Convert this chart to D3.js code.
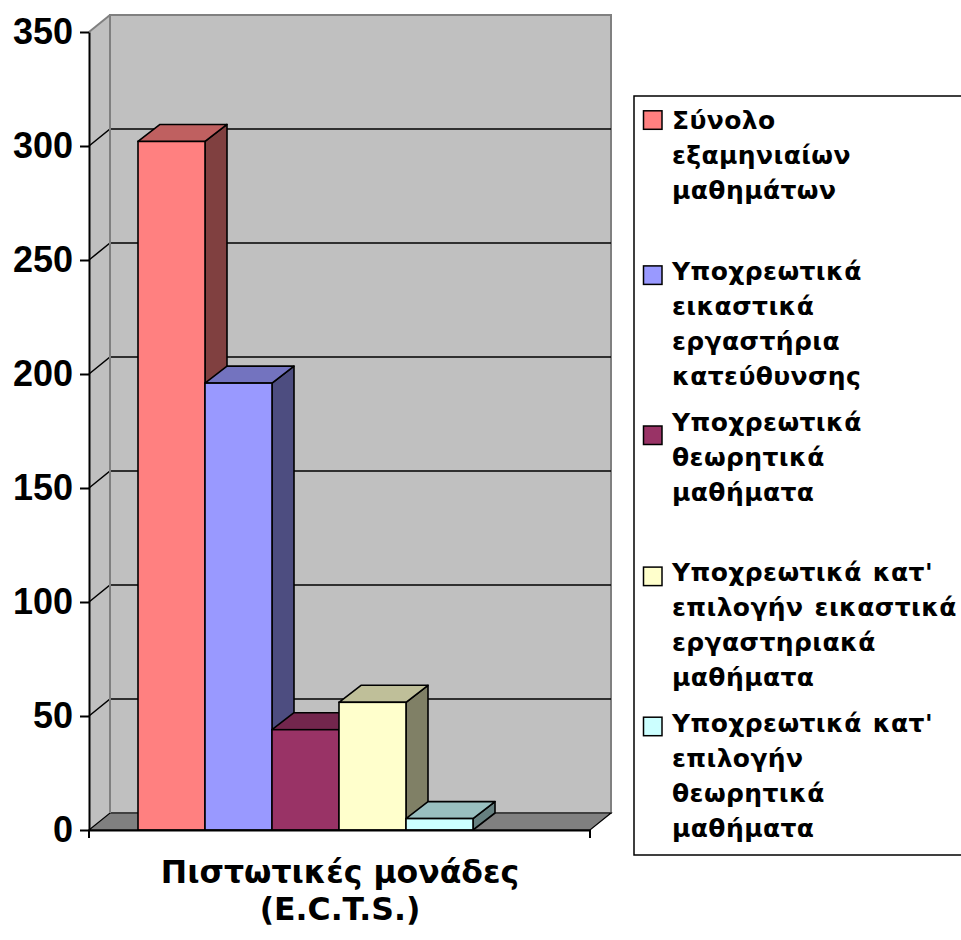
<!DOCTYPE html>
<html>
<head>
<meta charset="utf-8">
<script src="https://cdn.jsdelivr.net/npm/d3@7/dist/d3.min.js"></script>
<style>
  html, body { margin: 0; padding: 0; background: #ffffff; }
  svg { display: block; }
</style>
</head>
<body>
<div id="chart"></div>
<script>
// ---- data ----
const categories = ["Πιστωτικές μονάδες (E.C.T.S.)"];
const categoryLabelLines = ["Πιστωτικές μονάδες", "(E.C.T.S.)"];
const seriesNames = [
  "Σύνολο εξαμηνιαίων μαθημάτων",
  "Υποχρεωτικά εικαστικά εργαστήρια κατεύθυνσης",
  "Υποχρεωτικά θεωρητικά μαθήματα",
  "Υποχρεωτικά κατ' επιλογήν εικαστικά εργαστηριακά μαθήματα",
  "Υποχρεωτικά κατ' επιλογήν θεωρητικά μαθήματα"
];
const legendLines = [
  ["Σύνολο", "εξαμηνιαίων", "μαθημάτων"],
  ["Υποχρεωτικά", "εικαστικά", "εργαστήρια", "κατεύθυνσης"],
  ["Υποχρεωτικά", "θεωρητικά", "μαθήματα"],
  ["Υποχρεωτικά κατ'", "επιλογήν εικαστικά", "εργαστηριακά", "μαθήματα"],
  ["Υποχρεωτικά κατ'", "επιλογήν", "θεωρητικά", "μαθήματα"]
];
const seriesValues = [302, 196, 44, 56, 5];
const seriesColors = ["#FF8080", "#9999FF", "#993366", "#FFFFCC", "#CCFFFF"];
const yTicks = [0, 50, 100, 150, 200, 250, 300, 350];

// ---- layout ----
const W = 961, H = 940;
const AXIS_FONT = "'Liberation Sans', Arial, sans-serif";
const TEXT_FONT = "'DejaVu Sans', Verdana, sans-serif";
const plot = { left: 89, right: 590, top: 32, bottom: 830 };
const wallDX = 21, wallDY = 17;   // depth offset of the back wall
const barDX = 22, barDY = 17;     // depth offset of the bars

const svg = d3.select("#chart").append("svg").attr("width", W).attr("height", H);

const y = d3.scaleLinear().domain([0, 350]).range([plot.bottom, plot.top]);
const xCat = d3.scaleBand().domain(categories).range([plot.left, plot.right]);
const groupStart = xCat(categories[0]) + 49;
const xBar = d3.scaleBand().domain(seriesNames).range([groupStart, groupStart + 335]).padding(0);

const wallGray = "#C0C0C0", floorGray = "#808080", edgeGray = "#808080";

// side wall
svg.append("polygon")
  .attr("points", [[plot.left, y(350)], [plot.left + wallDX, y(350) - wallDY],
                   [plot.left + wallDX, y(0) - wallDY], [plot.left, y(0)]].join(" "))
  .attr("fill", wallGray).attr("stroke", "none");
// back wall
svg.append("rect")
  .attr("x", plot.left + wallDX).attr("y", y(350) - wallDY)
  .attr("width", plot.right - plot.left).attr("height", y(0) - y(350))
  .attr("fill", wallGray).attr("stroke", edgeGray).attr("stroke-width", 2);

// gridlines (side wall diagonal + back wall horizontal)
const grid = svg.append("g");
yTicks.filter(t => t > 0 && t < 350).forEach(t => {
  grid.append("polyline")
    .attr("points", [[plot.left, y(t)], [plot.left + wallDX, y(t) - wallDY], [plot.right + wallDX, y(t) - wallDY]].join(" "))
    .attr("fill", "none").attr("stroke", "#000").attr("stroke-width", 1.5);
});
grid.append("line")
  .attr("x1", plot.left).attr("y1", y(350)).attr("x2", plot.left + wallDX).attr("y2", y(350) - wallDY)
  .attr("stroke", edgeGray).attr("stroke-width", 2);

// floor
svg.append("polygon")
  .attr("points", [[plot.left, y(0)], [plot.left + wallDX, y(0) - wallDY],
                   [plot.right + wallDX, y(0) - wallDY], [plot.right, y(0)]].join(" "))
  .attr("fill", floorGray).attr("stroke", "#000").attr("stroke-width", 1.2);
svg.append("line")
  .attr("x1", plot.left + wallDX).attr("y1", y(0) - wallDY).attr("x2", plot.left + wallDX).attr("y2", y(350) - wallDY)
  .attr("stroke", edgeGray).attr("stroke-width", 2);

// bars
const shade = (c, k) => { const r = d3.rgb(c); return d3.rgb(r.r * k, r.g * k, r.b * k).formatHex(); };
const bars = svg.append("g");
seriesNames.forEach((name, i) => {
  const x0 = xBar(name), x1 = x0 + xBar.bandwidth();
  const yt = y(seriesValues[i]), yb = y(0);
  const g = bars.append("g");
  g.append("polygon")
    .attr("points", [[x1, yt], [x1 + barDX, yt - barDY], [x1 + barDX, yb - barDY], [x1, yb]].join(" "))
    .attr("fill", shade(seriesColors[i], 0.5)).attr("stroke", "#000").attr("stroke-width", 1.6).attr("stroke-linejoin", "round");
  g.append("polygon")
    .attr("points", [[x0, yt], [x0 + barDX, yt - barDY], [x1 + barDX, yt - barDY], [x1, yt]].join(" "))
    .attr("fill", shade(seriesColors[i], 0.75)).attr("stroke", "#000").attr("stroke-width", 1.6).attr("stroke-linejoin", "round");
  g.append("rect")
    .attr("x", x0).attr("y", yt).attr("width", x1 - x0).attr("height", yb - yt)
    .attr("fill", seriesColors[i]).attr("stroke", "#000").attr("stroke-width", 1.6);
});

// value axis
const yAxis = d3.axisLeft(y).tickValues(yTicks).tickSize(9).tickSizeOuter(0).tickPadding(7).tickFormat(d3.format("d"));
const ya = svg.append("g").attr("transform", `translate(${plot.left},0)`).call(yAxis);
ya.attr("font-family", AXIS_FONT).attr("font-size", 36).attr("font-weight", "bold");
ya.select(".domain").attr("stroke", "#000").attr("stroke-width", 2);
ya.selectAll(".tick line").attr("stroke", "#000").attr("stroke-width", 2);
ya.selectAll(".tick text").attr("fill", "#000").style("font-weight", "bold").style("font-family", AXIS_FONT).style("font-size", "36px");

// category axis
const xAxis = d3.axisBottom(xCat).tickSize(0).tickFormat("");
const xa = svg.append("g").attr("transform", `translate(0,${plot.bottom})`).call(xAxis);
xa.select(".domain").attr("stroke", "#000").attr("stroke-width", 2);
[plot.left, plot.right].forEach(px => {
  svg.append("line").attr("x1", px).attr("x2", px).attr("y1", plot.bottom).attr("y2", plot.bottom + 8)
    .attr("stroke", "#000").attr("stroke-width", 2);
});
const cx = 340;
const catLabel = svg.append("text")
  .attr("text-anchor", "middle")
  .style("font-family", TEXT_FONT).style("font-weight", "bold").style("font-size", "31.5px").attr("fill", "#000");
categoryLabelLines.forEach((l, i) => {
  catLabel.append("tspan").attr("x", cx).attr("y", 883 + i * 37).text(l);
});

// legend
const legend = svg.append("g");
legend.append("rect").attr("x", 634).attr("y", 96).attr("width", 340).attr("height", 759)
  .attr("fill", "#fff").attr("stroke", "#000").attr("stroke-width", 1.5);
const swatchOffsets = [-18.5, -14, -4.5, -14, -14.5];
seriesNames.forEach((name, i) => {
  const base = 129.3 + i * 150.6;
  legend.append("rect").attr("x", 643.5).attr("y", base + swatchOffsets[i]).attr("width", 18.5).attr("height", 18.5)
    .attr("fill", seriesColors[i]).attr("stroke", "#000").attr("stroke-width", 1.5);
  const t = legend.append("text")
    .style("font-family", TEXT_FONT).style("font-weight", "bold").style("font-size", "25px")
    .style("letter-spacing", "0.4px").style("word-spacing", "2px").attr("fill", "#000");
  legendLines[i].forEach((l, j) => {
    t.append("tspan").attr("x", 672).attr("y", base + j * 35).text(l);
  });
});
</script>
</body>
</html>
